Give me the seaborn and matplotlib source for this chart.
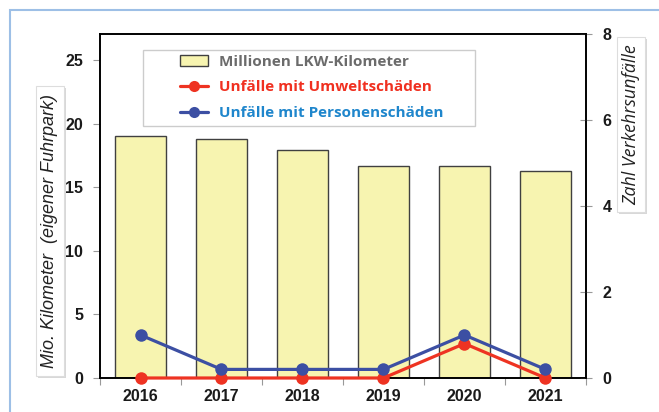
import numpy as np
import pandas as pd
import matplotlib
matplotlib.use("Agg")
import matplotlib.pyplot as plt
from matplotlib.patches import Rectangle, Patch
from matplotlib.lines import Line2D
import seaborn as sns

years = ["2016", "2017", "2018", "2019", "2020", "2021"]
km_millions = [19.0, 18.8, 17.9, 16.7, 16.7, 16.3]
unfaelle_umwelt = [0.0, 0.0, 0.0, 0.0, 0.8, 0.0]
unfaelle_personen = [1.0, 0.2, 0.2, 0.2, 1.0, 0.2]

label_km = "Millionen LKW-Kilometer"
label_umwelt = "Unfälle mit Umweltschäden"
label_personen = "Unfälle mit Personenschäden"

sns.set_theme(style="white")
plt.rcParams["font.family"] = ["Liberation Sans", "DejaVu Sans"]

W, H = 659, 412
fig = plt.figure(figsize=(W / 100, H / 100), dpi=100)

# outer blue frame
fig.patches.append(Rectangle((10 / W, -0.1), 1.2, (H - 10) / H + 0.1, transform=fig.transFigure,
                             fill=False, ec="#9dbfe6", lw=1.5))

AX_L, AX_R, AX_T, AX_B = 100, 586, 34, 378
ax = fig.add_axes([AX_L / W, (H - AX_B) / H, (AX_R - AX_L) / W, (AX_B - AX_T) / H])
df = pd.DataFrame({"Jahr": years, "km": km_millions})
sns.barplot(data=df, x="Jahr", y="km", ax=ax, color="#f7f4b0", saturation=1,
            edgecolor="#404040", linewidth=1.0, width=0.63)
ax.set_xlim(-0.5, len(years) - 0.5)
ax.set_ylim(0, 27.05)
ax.set_yticks([0, 5, 10, 15, 20, 25])
ax.set_xlabel("")
ax.set_ylabel("")
ax.tick_params(axis="y", direction="out", length=5, width=0.8, color="#999999", left=True,
               labelsize=11.5, pad=7)
ax.tick_params(axis="x", which="major", length=0, labelsize=11.5, pad=8)
ax.set_xticks(np.arange(-0.5, len(years), 1.0), minor=True)
ax.tick_params(axis="x", which="minor", direction="out", length=5, width=0.8, color="#999999", bottom=True)
for lab in ax.get_xticklabels() + ax.get_yticklabels():
    lab.set_fontweight("bold")
    lab.set_color("#1a1a1a")
for s in ax.spines.values():
    s.set_color("black")
    s.set_linewidth(1.2)

ax2 = ax.twinx()
xs = np.arange(len(years))
sns.lineplot(x=xs, y=unfaelle_umwelt, ax=ax2, color="#ee3322", lw=2.3, marker="o",
             markersize=9, markeredgewidth=0, zorder=3, clip_on=False)
sns.lineplot(x=xs, y=unfaelle_personen, ax=ax2, color="#3c4fa3", lw=2.3, marker="o",
             markersize=9, markeredgewidth=0, zorder=4, clip_on=False)
ax2.set_ylim(0, 8)
ax2.set_yticks([0, 2, 4, 6, 8])
ax2.set_xlim(-0.5, len(years) - 0.5)
ax2.tick_params(axis="y", direction="inout", length=8, width=0.8, color="#999999", right=True,
                labelsize=11.5, pad=8)
for lab in ax2.get_yticklabels():
    lab.set_fontweight("bold")
    lab.set_color("#1a1a1a")
for s in ax2.spines.values():
    s.set_color("black")
    s.set_linewidth(1.2)
ax2.set_ylabel("")

def ax_x(px):
    return (px - AX_L) / (AX_R - AX_L)

def ax_y(py):
    return (AX_B - py) / (AX_B - AX_T)

# legend frame
ax2.add_patch(Rectangle((ax_x(143), ax_y(126)), ax_x(475) - ax_x(143), ax_y(50) - ax_y(126),
                        transform=ax2.transAxes, fc="white", ec="#cccccc", lw=1.0, zorder=9))
handles = [
    Patch(facecolor="#f7f4b0", edgecolor="#404040", linewidth=1.0),
    Line2D([], [], color="#ee3322", lw=2.3, marker="o", markersize=8, markeredgewidth=0),
    Line2D([], [], color="#3c4fa3", lw=2.3, marker="o", markersize=8, markeredgewidth=0),
]
leg = ax2.legend(handles, [label_km, label_umwelt, label_personen],
                 loc="upper left", bbox_to_anchor=(ax_x(180), ax_y(55)),
                 frameon=False,
                 prop={"family": ["Open Sans", "DejaVu Sans"], "weight": "bold", "size": 11},
                 handlelength=1.8, handletextpad=0.75, labelspacing=0.75, borderpad=0.0,
                 borderaxespad=0)
leg.set_zorder(10)
for t, c in zip(leg.get_texts(), ["#6b6b6b", "#f03020", "#1f86cc"]):
    t.set_color(c)

# axis label boxes with shadow
def label_box(x0, y0, x1, y1, text, family, size):
    fig.patches.append(Rectangle((x0 / W + 2 / W, 1 - y1 / H - 2 / H), (x1 - x0) / W, (y1 - y0) / H,
                                 transform=fig.transFigure, fc="#d8d8d8", ec="none"))
    fig.patches.append(Rectangle((x0 / W, 1 - y1 / H), (x1 - x0) / W, (y1 - y0) / H,
                                 transform=fig.transFigure, fc="white", ec="#dddddd", lw=0.8))
    fig.text((x0 + x1) / 2 / W, 1 - (y0 + y1) / 2 / H, text, rotation=90, ha="center", va="center",
             style="italic", fontsize=size, family=family, color="#222222")

label_box(36, 86, 64, 376, "Mio. Kilometer  (eigener Fuhrpark)", ["Liberation Sans", "DejaVu Sans"], 13)
label_box(617, 37, 645, 212, "Zahl Verkehrsunfälle", ["Open Sans", "DejaVu Sans"], 12.8)

fig.savefig("out.png", dpi=100)
